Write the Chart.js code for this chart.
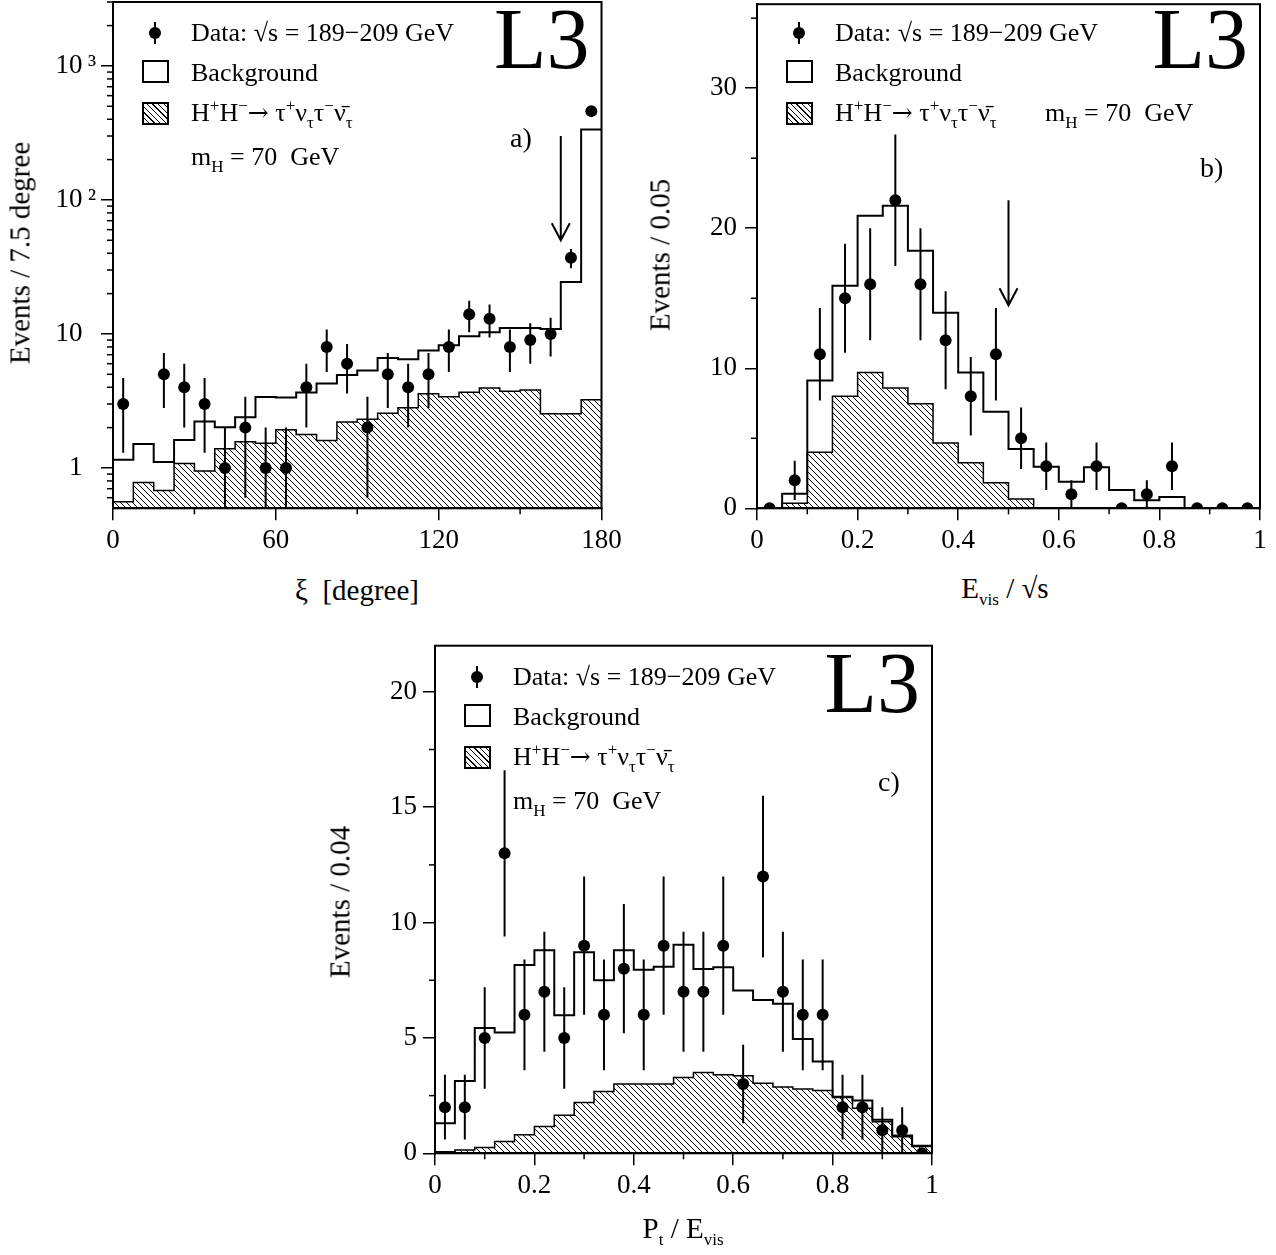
<!DOCTYPE html>
<html>
<head>
<meta charset="utf-8">
<script src="https://cdn.jsdelivr.net/npm/chart.js@4.4.0/dist/chart.umd.min.js"></script>
<style>
  body { margin: 0; background: #fff; }
  #page { position: relative; width: 1276px; height: 1255px; overflow: hidden; background: #fff;
          font-family: 'Liberation Serif', 'Times New Roman', serif; color: #000; }
  .wrap { position: absolute; }
  .t { position: absolute; white-space: nowrap; font-size: 26px; line-height: 26px; z-index: 2; }
  .sup { font-size: 17px; position: relative; top: -10px; }
  .sub { font-size: 17px; position: relative; top: 7px; }
  .arr { font-family: 'DejaVu Serif', serif; font-size: 25px; }
  .title { font-size: 29px; line-height: 29px; transform: translate(-50%, -50%); }
  .ytitle { transform: translate(-50%, -50%) rotate(-90deg); }
  .big { font-size: 86px; line-height: 86px; }
  .dot { position: absolute; width: 12px; height: 12px; border-radius: 50%; background: #000; z-index: 2; }
  .bar { position: absolute; width: 2px; height: 22px; background: #000; z-index: 2; }
  .sq { position: absolute; width: 27px; height: 23px; box-sizing: border-box; border: 2px solid #000; background: #fff; z-index: 2; }
  .hatched { background: repeating-linear-gradient(45deg, #fff 0 3px, #000 3px 4px); }
</style>
</head>
<body>
<div id="page">
  <div class="wrap" style="left:0;top:-20px;width:640px;height:580px"><canvas id="ca"></canvas></div>
  <div class="wrap" style="left:640px;top:-20px;width:636px;height:580px"><canvas id="cb"></canvas></div>
  <div class="wrap" style="left:320px;top:620px;width:640px;height:600px"><canvas id="cc"></canvas></div>
</div>
<script>
// ---- panel a: xi [degree], 24 bins of 7.5 degree (log scale) ----
const aBinW = 7.5;
const aBkg  = [1.15, 1.51, 1.11, 1.62, 2.22, 2.01, 2.39, 3.38, 3.35, 3.66, 4.26, 4.94,
               5.33, 6.62, 6.47, 7.52, 8.24, 9.62, 10.3, 11.1, 11.1, 10.9, 24.4, 336];
const aSig  = [0.56, 0.78, 0.68, 1.08, 0.95, 1.39, 1.57, 1.53, 1.93, 1.78, 1.60, 2.20,
               2.31, 2.56, 2.81, 3.58, 3.40, 3.68, 3.95, 3.73, 3.81, 2.54, 2.54, 3.23];
const aData = [3, 0, 5, 4, 3, 1, 2, 1, 1, 4, 8, 6, 2, 5, 4, 5, 8, 14, 13, 8, 9, 10, 37, 460];
const aErr  = [1.7, 0, 2.2, 2.0, 1.7, 1.0, 1.4, 1.0, 1.0, 2.0, 2.8, 2.4,
               1.4, 2.2, 2.0, 2.2, 2.8, 3.7, 3.6, 2.8, 3.0, 3.2, 6.1, 21];
const aXTicks = [0, 60, 120, 180];
const aXLabels = ['0', '60', '120', '180'];
const aYTicks = [1, 10, 100, 1000];
const aYLabels = ['1\u2007', '10\u2007', '10\u2009\u00b2', '10\u2009\u00b3'];
const aArrow = { x: 165, from: 300, to: 50 };

// ---- panel b: E_vis / sqrt(s), 20 bins of 0.05 ----
const bBinW = 0.05;
const bBkg  = [0, 1.04, 9.12, 15.9, 20.9, 21.6, 18.4, 13.96, 9.7, 6.9, 4.24, 2.96,
               1.9, 2.94, 1.3, 0.57, 0.8, 0, 0, 0];
const bSig  = [0, 0.36, 4.0, 8.0, 9.7, 8.6, 7.46, 4.67, 3.25, 1.82, 0.66, 0,
               0, 0, 0, 0, 0, 0, 0, 0];
const bData = [0, 2, 11, 15, 16, 22, 16, 12, 8, 11, 5, 3, 1, 3, 0, 1, 3, 0, 0, 0];
const bErr  = [0, 1.4, 3.3, 3.9, 4.0, 4.7, 4.0, 3.5, 2.8, 3.3, 2.2, 1.7, 1.0, 1.7, 0, 1.0, 1.7, 0, 0, 0];
const bXTicks = [0, 0.2, 0.4, 0.6, 0.8, 1];
const bXLabels = ['0', '0.2', '0.4', '0.6', '0.8', '1'];
const bYTicks = [0, 10, 20, 30];
const bYLabels = ['0', '10', '20', '30'];
const bArrow = { x: 0.5, from: 22, to: 14.5 };

// ---- panel c: P_t / E_vis, 25 bins of 0.04 ----
const cBinW = 0.04;
const cBkg  = [1.30, 3.13, 5.43, 5.24, 8.16, 8.8, 5.98, 8.71, 7.5, 8.8, 7.96, 8.08, 9.04,
               7.99, 8.06, 7.06, 6.64, 6.48, 4.95, 3.98, 2.43, 2.29, 1.45, 0.77, 0.33];
const cSig  = [0.07, 0.14, 0.25, 0.51, 0.8, 1.16, 1.65, 2.2, 2.68, 3.0, 3.0, 3.0, 3.28,
               3.5, 3.4, 3.36, 3.04, 2.87, 2.79, 2.72, 2.46, 1.95, 1.37, 0.72, 0.29];
const cData = [2, 2, 5, 13, 6, 7, 5, 9, 6, 8, 6, 9, 7, 7, 9, 3, 12, 7, 6, 6, 2, 2, 1, 1, 0];
const cErr  = [1.4, 1.4, 2.2, 3.6, 2.4, 2.6, 2.2, 3.0, 2.4, 2.8, 2.4, 3.0, 2.6, 2.6, 3.0,
               1.7, 3.5, 2.6, 2.4, 2.4, 1.4, 1.4, 1.0, 1.0, 0];
const cXTicks = bXTicks;
const cXLabels = bXLabels;
const cYTicks = [0, 5, 10, 15, 20];
const cYLabels = ['0', '5', '10', '15', '20'];

const serif = "'Liberation Serif', 'Times New Roman', serif";

// diagonal hatching for the signal histogram
const hatch = (() => {
  const t = document.createElement('canvas');
  t.width = 6; t.height = 6;
  const g = t.getContext('2d');
  g.strokeStyle = '#000'; g.lineWidth = 1;
  g.beginPath();
  g.moveTo(-1, -1); g.lineTo(7, 7);
  g.moveTo(-1, 5); g.lineTo(1, 7);
  g.moveTo(5, -1); g.lineTo(7, 1);
  g.stroke();
  return g.createPattern(t, 'repeat');
})();

// bin contents -> step outline: one point per left edge plus the last right edge
function steps(vals, w) {
  const pts = vals.map((v, i) => ({ x: i * w, y: v }));
  pts.push({ x: vals.length * w, y: vals[vals.length - 1] });
  return pts;
}
function centres(vals, w, log) {
  return vals.map((v, i) => ({ x: (i + 0.5) * w, y: (log && v === 0) ? null : v }));
}

const frame = {
  id: 'frame',
  afterDraw(chart) {
    const { ctx, chartArea: a } = chart;
    ctx.save();
    ctx.strokeStyle = '#000'; ctx.lineWidth = 2;
    ctx.strokeRect(a.left, a.top, a.right - a.left, a.bottom - a.top);
    ctx.restore();
  }
};

const errorBars = {
  id: 'errorBars',
  afterDatasetsDraw(chart) {
    const { ctx, chartArea: a } = chart;
    const y = chart.scales.y;
    chart.data.datasets.forEach((ds, di) => {
      if (!ds.errors) return;
      const meta = chart.getDatasetMeta(di);
      ctx.save();
      ctx.beginPath(); ctx.rect(a.left, a.top, a.right - a.left, a.bottom - a.top); ctx.clip();
      ctx.strokeStyle = '#000'; ctx.lineWidth = 2;
      ds.data.forEach((p, i) => {
        const e = ds.errors[i];
        if (p.y === null || !e) return;
        const x = meta.data[i].x;
        const lo = p.y - e;
        const yl = lo > y.min ? y.getPixelForValue(lo) : a.bottom;
        const yh = y.getPixelForValue(p.y + e);
        ctx.beginPath(); ctx.moveTo(x, yl); ctx.lineTo(x, yh); ctx.stroke();
      });
      ctx.restore();
    });
  }
};

const minorTicks = {
  id: 'minorTicks',
  afterDraw(chart, args, o) {
    const { ctx, chartArea: a } = chart;
    const sx = chart.scales.x, sy = chart.scales.y;
    ctx.save();
    ctx.strokeStyle = '#000'; ctx.lineWidth = 1.5;
    (o.x || []).forEach(v => {
      const p = sx.getPixelForValue(v);
      ctx.beginPath(); ctx.moveTo(p, a.bottom); ctx.lineTo(p, a.bottom + o.len); ctx.stroke();
    });
    (o.y || []).forEach(v => {
      const p = sy.getPixelForValue(v);
      ctx.beginPath(); ctx.moveTo(a.left, p); ctx.lineTo(a.left - o.len, p); ctx.stroke();
    });
    ctx.restore();
  }
};

const cutArrow = {
  id: 'cutArrow',
  afterDraw(chart, args, o) {
    if (o.x === undefined) return;
    const { ctx } = chart;
    const x = chart.scales.x.getPixelForValue(o.x);
    const y1 = chart.scales.y.getPixelForValue(o.from);
    const y2 = chart.scales.y.getPixelForValue(o.to);
    ctx.save();
    ctx.strokeStyle = '#000'; ctx.lineWidth = 2;
    ctx.beginPath();
    ctx.moveTo(x, y1); ctx.lineTo(x, y2);
    ctx.moveTo(x - 9, y2 - 17); ctx.lineTo(x, y2); ctx.lineTo(x + 9, y2 - 17);
    ctx.stroke();
    ctx.restore();
  }
};

function panel(id, p) {
  const tickFont = { family: serif, size: 27 };
  return new Chart(document.getElementById(id), {
    type: 'line',
    data: {
      datasets: [
        { label: 'Data', data: centres(p.data, p.w, p.log), errors: p.err, showLine: false,
          pointRadius: 6, pointHoverRadius: 6, pointBackgroundColor: '#000', pointBorderWidth: 0 },
        { label: 'Background', data: steps(p.bkg, p.w), stepped: 'before', borderColor: '#000',
          borderWidth: 2, pointRadius: 0, fill: false },
        { label: 'Signal', data: steps(p.sig, p.w), stepped: 'before', borderColor: '#000',
          borderWidth: 1.5, pointRadius: 0, fill: 'start', backgroundColor: hatch }
      ]
    },
    options: {
      responsive: true, maintainAspectRatio: false, animation: false, events: [],
      layout: { padding: p.pad },
      plugins: {
        legend: { display: false }, tooltip: { enabled: false },
        minorTicks: { x: p.xMinor, y: p.yMinor, len: 6 },
        cutArrow: p.arrow || {}
      },
      scales: {
        x: {
          type: 'linear', min: p.xMin, max: p.xMax,
          afterFit: s => { s.height = p.xh; },
          afterBuildTicks: s => { s.ticks = p.xTicks.map(v => ({ value: v })); },
          ticks: { callback: (v, i) => p.xLabels[i], font: tickFont, color: '#000', padding: 4,
                   maxRotation: 0, autoSkip: false },
          grid: { drawOnChartArea: false, tickLength: 12, color: '#000', lineWidth: 1.5 },
          border: { color: '#000', width: 2 }
        },
        y: {
          type: p.log ? 'logarithmic' : 'linear', min: p.yMin, max: p.yMax,
          afterFit: s => { s.width = p.yw; },
          afterBuildTicks: s => { s.ticks = p.yTicks.map(v => ({ value: v })); },
          ticks: { callback: (v, i) => p.yLabels[i], font: tickFont, color: '#000', padding: p.ypad,
                   autoSkip: false },
          grid: { drawOnChartArea: false, tickLength: 12, color: '#000', lineWidth: 1.5 },
          border: { color: '#000', width: 2 }
        }
      }
    },
    plugins: [frame, errorBars, minorTicks, cutArrow]
  });
}

const aYMinor = [0.6, 0.7, 0.8, 0.9];
[1, 10, 100].forEach(d => { for (let k = 2; k <= 9; k++) aYMinor.push(k * d); });
aYMinor.push(2000, 3000);

panel('ca', {
  w: aBinW, bkg: aBkg, sig: aSig, data: aData, err: aErr, log: true,
  xMin: 0, xMax: 180, yMin: 0.5, yMax: 3000,
  xTicks: aXTicks, xLabels: aXLabels, yTicks: aYTicks, yLabels: aYLabels,
  xMinor: [30, 90, 150], yMinor: aYMinor,
  pad: { top: 22, right: 38.5, left: 0, bottom: 0 }, yw: 113, xh: 51.7, ypad: 5,
  arrow: aArrow
});
panel('cb', {
  w: bBinW, bkg: bBkg, sig: bSig, data: bData, err: bErr, log: false,
  xMin: 0, xMax: 1, yMin: 0, yMax: 36,
  xTicks: bXTicks, xLabels: bXLabels, yTicks: bYTicks, yLabels: bYLabels,
  xMinor: [0.1, 0.3, 0.5, 0.7, 0.9], yMinor: [5, 15, 25, 35],
  pad: { top: 22, right: 16, left: 0, bottom: 0 }, yw: 117, xh: 51.7, ypad: 8,
  arrow: bArrow
});
panel('cc', {
  w: cBinW, bkg: cBkg, sig: cSig, data: cData, err: cErr, log: false,
  xMin: 0, xMax: 1, yMin: 0, yMax: 22,
  xTicks: cXTicks, xLabels: cXLabels, yTicks: cYTicks, yLabels: cYLabels,
  xMinor: [0.1, 0.3, 0.5, 0.7, 0.9], yMinor: [2.5, 7.5, 12.5, 17.5],
  pad: { top: 25.7, right: 28, left: 0, bottom: 0 }, yw: 115, xh: 66.7, ypad: 6
});

// ---- text overlays: legends, L3 logo, panel tags, axis titles ----
const page = document.getElementById('page');
function add(html, cls, style) {
  const d = document.createElement('div');
  d.className = cls; d.style.cssText = style; d.innerHTML = html;
  page.appendChild(d);
}
const sigText = 'H<span class="sup">+</span>H<span class="sup">\u2212</span><span class="arr">\u2192</span> \u03c4<span class="sup">+</span>\u03bd<span class="sub">\u03c4</span>\u03c4<span class="sup">\u2212</span>\u03bd\u0304<span class="sub">\u03c4</span>';
const massText = 'm<span class="sub">H</span> = 70&nbsp; GeV';

function legend(L, T, R, massInline) {
  add('', 'bar', `left:${L + 41}px;top:${T + 20}px`);
  add('', 'dot', `left:${L + 36}px;top:${T + 25}px`);
  add('Data: \u221as = 189\u2212209 GeV', 't', `left:${L + 78}px;top:${T + 18}px`);
  add('', 'sq', `left:${L + 29}px;top:${T + 58}px`);
  add('Background', 't', `left:${L + 78}px;top:${T + 58}px`);
  add('', 'sq hatched', `left:${L + 29}px;top:${T + 100}px`);
  add(sigText, 't', `left:${L + 78}px;top:${T + 98}px`);
  if (massInline) add(massText, 't', `left:${L + 288}px;top:${T + 98}px`);
  else add(massText, 't', `left:${L + 78}px;top:${T + 142}px`);
  add('L3', 't big', `right:${1276 - R + 12}px;top:${T - 6}px`);
}
legend(113, 2, 601.5, false);
legend(757, 2, 1260, true);
legend(435, 645.7, 932, false);

add('a)', 't', 'left:510px;top:124px;font-size:28px;line-height:28px');
add('b)', 't', 'left:1200px;top:154px;font-size:28px;line-height:28px');
add('c)', 't', 'left:878px;top:768px;font-size:28px;line-height:28px');

add('Events / 7.5 degree', 't title ytitle', 'left:20px;top:253px');
add('Events / 0.05', 't title ytitle', 'left:660px;top:255px');
add('Events / 0.04', 't title ytitle', 'left:340px;top:902px');
add('\u03be&nbsp; [degree]', 't title', 'left:357px;top:590px');
add('E<span class="sub">vis</span> / \u221as', 't title', 'left:1005px;top:590px');
add('P<span class="sub">t</span> / E<span class="sub">vis</span>', 't title', 'left:683px;top:1230px');
</script>
</body>
</html>
